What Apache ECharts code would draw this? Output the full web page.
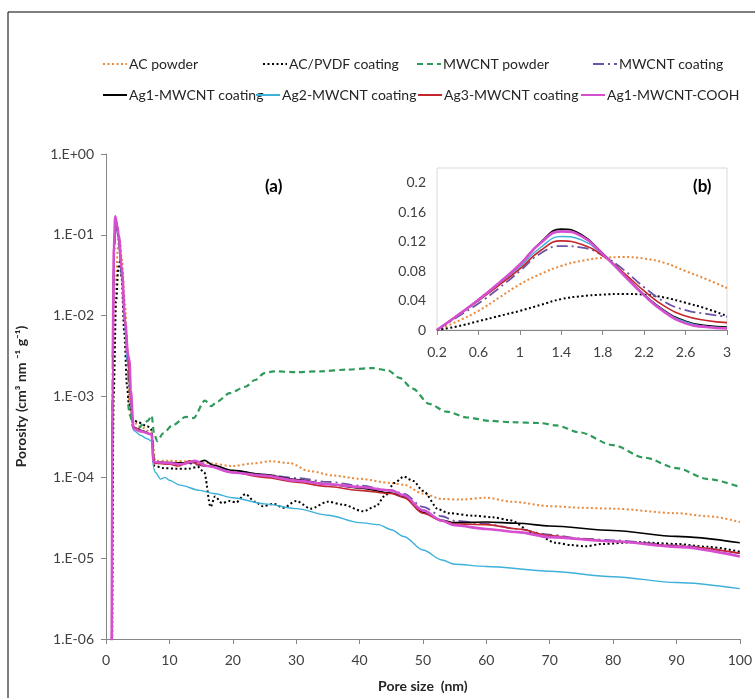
<!DOCTYPE html>
<html><head><meta charset="utf-8">
<script src="https://cdn.jsdelivr.net/npm/echarts@6/dist/echarts.min.js"></script>
<style>html,body{margin:0;padding:0;background:#fff}#c{width:755px;height:698px}</style>
</head><body><div id="c"></div>
<script>
// ---------- names ----------
const seriesNames = ['AC powder','AC/PVDF coating','MWCNT powder','MWCNT coating',
  'Ag1-MWCNT coating','Ag2-MWCNT coating','Ag3-MWCNT coating','Ag1-MWCNT-COOH'];

// ---------- main chart (a): [pore size nm, porosity] ----------
const acPowder = [[0.95,5e-7],[1.2,2e-3],[1.6,0.03],[1.9,0.075],[2.15,0.09],[2.5,0.05],[3.0,0.014],[3.4,3.5e-3],[3.7,8e-4],[4.3,4.8e-4],[5.5,4.2e-4],[7.2,3.6e-4],[7.8,1.6e-4],[10,1.6e-4],[13,1.58e-4],[16,1.5e-4],[20,1.38e-4],[23,1.48e-4],[26,1.58e-4],[29,1.5e-4],[32,1.2e-4],[36,1.05e-4],[40,9.6e-5],[45,8.5e-5],[47,8.1e-5],[50,6.3e-5],[53,5.4e-5],[56,5.3e-5],[60,5.6e-5],[64,5.0e-5],[70,4.4e-5],[75,4.2e-5],[80,4.1e-5],[90,3.6e-5],[95,3.3e-5],[100,2.8e-5]];
const acPvdfCoating = [[0.95,5e-7],[1.2,1e-3],[1.6,0.015],[1.95,0.04],[2.15,0.046],[2.45,0.03],[2.9,6e-3],[3.3,1.4e-3],[3.6,8e-4],[4.3,5.2e-4],[5,4.8e-4],[6.5,4.3e-4],[7.1,4.0e-4],[7.6,1.4e-4],[9,1.3e-4],[11,1.28e-4],[13,1.28e-4],[14.5,1.35e-4],[15.5,1.15e-4],[16.5,4.3e-5],[17.2,5.8e-5],[18.3,4.8e-5],[19.5,5.1e-5],[20.5,4.9e-5],[22,6.2e-5],[23.5,5.0e-5],[24.7,4.4e-5],[26.5,4.7e-5],[28,4.2e-5],[30,5.1e-5],[32.3,4.1e-5],[35,5.0e-5],[37.3,4.6e-5],[40.6,3.8e-5],[42.6,4.4e-5],[44,5.9e-5],[45.5,8.5e-5],[47,1.02e-4],[48.5,9.0e-5],[50,6.8e-5],[52.5,4.0e-5],[54,3.6e-5],[58,3.35e-5],[61,3.2e-5],[63.7,2.95e-5],[67.7,2.0e-5],[71,1.55e-5],[73.5,1.45e-5],[75.6,1.4e-5],[78.3,1.5e-5],[83.6,1.58e-5],[90,1.5e-5],[95,1.38e-5],[100,1.2e-5]];
const mwcntPowder = [[3.5,8e-4],[3.8,5.8e-4],[4.35,4.0e-4],[5.1,4.0e-4],[5.9,4.6e-4],[6.6,5.0e-4],[7.2,5.8e-4],[7.6,3.4e-4],[8.1,2.8e-4],[9,3.5e-4],[10.5,4.4e-4],[12.6,5.6e-4],[13.8,5.4e-4],[15.6,8.9e-4],[16.6,7.6e-4],[17.5,8.6e-4],[19.5,1.1e-3],[22,1.32e-3],[23.5,1.6e-3],[25,1.95e-3],[26.5,2.05e-3],[30,2.0e-3],[34,2.05e-3],[38,2.15e-3],[42,2.25e-3],[44.5,2.1e-3],[46.3,1.7e-3],[48.4,1.25e-3],[51,8.1e-4],[53.7,6.5e-4],[57,5.5e-4],[60.5,5.0e-4],[64,4.8e-4],[68.4,4.7e-4],[71,4.4e-4],[74.7,3.6e-4],[80,2.5e-4],[85,1.75e-4],[90,1.3e-4],[95,9.5e-5],[100,7.6e-5]];
const mwcntCoating = [[0.9,5e-7],[1.05,3e-3],[1.25,0.05],[1.5,0.14],[1.75,0.11],[2.0,0.08],[2.5,0.03],[3.0,8e-3],[3.4,2.4e-3],[3.7,1.2e-3],[4.3,4.2e-4],[5.5,3.8e-4],[7.2,3.4e-4],[7.6,1.55e-4],[10,1.5e-4],[13,1.48e-4],[16,1.38e-4],[20,1.2e-4],[25,1.08e-4],[30,9.8e-5],[35,8.8e-5],[40,7.9e-5],[45,6.9e-5],[47,6.3e-5],[50,4.3e-5],[53,3.3e-5],[55,2.9e-5],[60,2.65e-5],[65,2.3e-5],[70,1.95e-5],[75,1.75e-5],[80,1.66e-5],[90,1.44e-5],[100,1.15e-5]];
const ag1Coating = [[0.9,5e-7],[1.05,3e-3],[1.25,0.06],[1.5,0.16],[1.75,0.13],[2.0,0.09],[2.5,0.035],[3.0,8.5e-3],[3.5,3.0e-3],[3.8,1.2e-3],[4.3,4.2e-4],[5.5,3.8e-4],[7.2,3.4e-4],[7.6,1.55e-4],[10,1.52e-4],[13,1.5e-4],[14.5,1.55e-4],[15.6,1.62e-4],[16.8,1.42e-4],[20,1.22e-4],[25,1.08e-4],[30,9.4e-5],[35,8.2e-5],[40,7.4e-5],[45,6.4e-5],[47,5.8e-5],[50,3.7e-5],[53,2.95e-5],[55,2.75e-5],[60,2.8e-5],[65,2.7e-5],[70,2.5e-5],[80,2.2e-5],[90,1.86e-5],[100,1.55e-5]];
const ag2Coating = [[0.9,5e-7],[1.05,3e-3],[1.25,0.06],[1.5,0.16],[1.75,0.13],[2.0,0.09],[2.5,0.033],[3.0,8e-3],[3.3,3.0e-3],[3.55,2.4e-3],[3.9,8e-4],[4.35,3.8e-4],[5.5,3.3e-4],[6.5,3.0e-4],[7.2,2.8e-4],[7.5,1.3e-4],[7.8,1.15e-4],[8.6,9.5e-5],[9.3,1.0e-4],[10,9.2e-5],[11.7,8.0e-5],[14.8,6.9e-5],[17,6.3e-5],[20,5.6e-5],[25,4.7e-5],[30,4.1e-5],[35,3.4e-5],[40,2.75e-5],[43,2.6e-5],[45,2.25e-5],[47,1.85e-5],[50,1.26e-5],[53,9.5e-6],[55,8.4e-6],[60,7.9e-6],[70,6.9e-6],[80,5.9e-6],[90,5.0e-6],[100,4.2e-6]];
const ag3Coating = [[0.9,5e-7],[1.05,3e-3],[1.25,0.06],[1.5,0.16],[1.75,0.13],[2.0,0.09],[2.5,0.035],[3.0,8.5e-3],[3.5,3.0e-3],[3.8,1.2e-3],[4.3,4.2e-4],[5.5,3.8e-4],[7.2,3.4e-4],[7.6,1.5e-4],[10,1.45e-4],[11.5,1.38e-4],[13.2,1.6e-4],[14.5,1.45e-4],[16,1.38e-4],[20,1.15e-4],[25,1.0e-4],[30,8.7e-5],[35,7.7e-5],[40,6.9e-5],[45,6.3e-5],[47,5.6e-5],[50,3.6e-5],[53,2.9e-5],[55,2.65e-5],[60,2.6e-5],[65,2.3e-5],[70,1.9e-5],[75,1.72e-5],[80,1.62e-5],[90,1.41e-5],[100,1.15e-5]];
const ag1Cooh = [[0.9,5e-7],[1.05,3e-3],[1.25,0.07],[1.46,0.17],[1.75,0.13],[2.0,0.1],[2.5,0.038],[3.0,8.5e-3],[3.5,3.2e-3],[3.7,2.8e-3],[3.9,1.2e-3],[4.35,4.0e-4],[5.5,3.7e-4],[7.2,3.4e-4],[7.5,1.55e-4],[10,1.5e-4],[12,1.45e-4],[14,1.6e-4],[16,1.38e-4],[20,1.15e-4],[25,1.05e-4],[30,9.1e-5],[35,8.2e-5],[40,7.6e-5],[45,6.9e-5],[47,6.0e-5],[50,3.9e-5],[53,2.9e-5],[55,2.55e-5],[60,2.3e-5],[65,2.1e-5],[70,1.82e-5],[80,1.62e-5],[90,1.38e-5],[100,1.05e-5]];

// ---------- inset (b) ----------
const insetX = ['0.2','0.4','0.6','0.8','1','1.2','1.4','1.6','1.8','2','2.2','2.4','2.6','2.8','3'];
const insetAcPowder  = [0,0.012,0.026,0.044,0.062,0.076,0.087,0.094,0.098,0.099,0.097,0.091,0.080,0.069,0.057];
const insetAcPvdf    = [0,0.005,0.012,0.019,0.026,0.034,0.042,0.046,0.048,0.049,0.048,0.044,0.037,0.029,0.019];
const insetMwcntCoat = [0,0.018,0.036,0.057,0.080,0.104,0.114,0.112,0.101,0.082,0.058,0.038,0.027,0.022,0.018];
const insetAg1       = [0,0.020,0.041,0.064,0.089,0.119,0.137,0.129,0.104,0.076,0.048,0.026,0.012,0.006,0.004];
const insetAg2       = [0,0.020,0.040,0.062,0.086,0.112,0.127,0.122,0.102,0.075,0.048,0.025,0.011,0.005,0.003];
const insetAg3       = [0,0.020,0.040,0.061,0.083,0.108,0.121,0.116,0.101,0.078,0.053,0.032,0.019,0.013,0.010];
const insetCooh      = [0,0.020,0.041,0.064,0.089,0.118,0.134,0.127,0.103,0.075,0.047,0.024,0.009,0.004,0.002];

// ---------- axis ranges ----------
const mainXMin = 0, mainXMax = 100, mainXStep = 10;
const mainYMin = 1e-6, mainYMax = 1;
const insetYMax = 0.22, insetYStep = 0.04;

// ---------- styling ----------
const FONT = 'Lato';
const colors = ['#E8893B','#000000','#2E9B5A','#6B54A6','#000000','#3DB1DA','#C3262C','#D64FD0'];
const lineStyles = [
  {type:[2,2.5], width:2},
  {type:[2,2.5], width:2},
  {type:[6,4], width:2.2},
  {type:[11,4,2,4], width:1.8},
  {type:'solid', width:1.6},
  {type:'solid', width:1.4},
  {type:'solid', width:1.6},
  {type:'solid', width:2.6}
];
const mainData = [acPowder, acPvdfCoating, mwcntPowder, mwcntCoating, ag1Coating, ag2Coating, ag3Coating, ag1Cooh];
const insetData = [insetAcPowder, insetAcPvdf, null, insetMwcntCoat, insetAg1, insetAg2, insetAg3, insetCooh];

function expLabel(v){
  const e = Math.round(Math.log10(v));
  const a = Math.abs(e);
  return '1.E' + (e < 0 ? '-' : '+') + (a < 10 ? '0' : '') + a;
}

const series = [];
seriesNames.forEach((n,i)=>{
  series.push({
    name:n, type:'line', xAxisIndex:0, yAxisIndex:0, data:mainData[i],
    symbol:'none', smooth:0.3, smoothMonotone:'x',
    lineStyle:Object.assign({color:colors[i]}, lineStyles[i]),
    itemStyle:{color:colors[i]}, emphasis:{disabled:true}, silent:true
  });
});
seriesNames.forEach((n,i)=>{
  if(!insetData[i]) return;
  series.push({
    name:n, type:'line', xAxisIndex:1, yAxisIndex:1, data:insetData[i],
    symbol:'none', smooth:0.5,
    lineStyle:Object.assign({color:colors[i]}, lineStyles[i]),
    itemStyle:{color:colors[i]}, emphasis:{disabled:true}, silent:true
  });
});

const legendPos = [[102,57],[262,57],[416,57],[592,57],[102,88],[255,88],[417,88],[580,88]];
const legends = seriesNames.map((n,i)=>({
  data:[n], left:legendPos[i][0], top:legendPos[i][1], padding:0, itemGap:0,
  itemWidth:24, itemHeight:12, selectedMode:false,
  itemStyle:{opacity:0},
  textStyle:{fontFamily:FONT, fontSize:14, color:'#262626', padding:[0,0,0,-3]}
}));

const axisGrey = '#868686';
const option = {
  animation:false,
  backgroundColor:'#fff',
  textStyle:{fontFamily:FONT},
  legend:legends,
  title:[
    {text:'(a)', left:265, top:178, padding:0, textStyle:{fontFamily:FONT, fontWeight:'bold', fontSize:17, color:'#000'}},
    {text:'(b)', left:693, top:178, padding:0, textStyle:{fontFamily:FONT, fontWeight:'bold', fontSize:17, color:'#000'}}
  ],
  graphic:[
    {type:'rect', shape:{x:8, y:12, width:800, height:800}, style:{fill:'none', stroke:'#000', lineWidth:1}, silent:true, z:-1}
  ],
  grid:[
    {left:106, top:154, width:639, height:487},
    {left:437, top:168, width:290, height:162, show:true, backgroundColor:'#fff', borderColor:'#D9D9D9', borderWidth:1}
  ],
  xAxis:[
    {type:'value', gridIndex:0, min:mainXMin, max:mainXMax, interval:mainXStep,
     axisLine:{show:true, onZero:false, lineStyle:{color:axisGrey}},
     axisTick:{show:true, inside:false, length:5, lineStyle:{color:axisGrey}},
     splitLine:{show:false},
     axisLabel:{fontFamily:FONT, fontSize:14, color:'#404040', margin:14},
     name:'Pore size  (nm)', nameLocation:'middle', nameGap:40,
     nameTextStyle:{fontFamily:FONT, fontWeight:'bold', fontSize:14, color:'#262626'}},
    {type:'category', gridIndex:1, data:insetX, boundaryGap:false,
     axisLine:{show:true, lineStyle:{color:axisGrey}},
     axisTick:{show:true, inside:false, length:5, interval:1, lineStyle:{color:axisGrey}},
     splitLine:{show:false},
     axisLabel:{interval:1, fontFamily:FONT, fontSize:14, color:'#404040', margin:15}}
  ],
  yAxis:[
    {type:'log', gridIndex:0, logBase:10, min:mainYMin, max:mainYMax,
     axisLine:{show:true, onZero:false, lineStyle:{color:axisGrey}},
     axisTick:{show:true, inside:false, length:5, lineStyle:{color:axisGrey}},
     minorTick:{show:false}, splitLine:{show:false},
     axisLabel:{formatter:expLabel, fontFamily:FONT, fontSize:14, color:'#404040', margin:12},
     name:'Porosity (cm³ nm ⁻¹ g⁻¹)', nameLocation:'middle', nameGap:78,
     nameTextStyle:{fontFamily:FONT, fontWeight:'bold', fontSize:14, color:'#262626'}},
    {type:'value', gridIndex:1, min:0, max:insetYMax, interval:insetYStep,
     axisLine:{show:false}, axisTick:{show:false}, splitLine:{show:false},
     axisLabel:{showMaxLabel:false, fontFamily:FONT, fontSize:14, color:'#404040', margin:11,
       formatter:v=> (Math.abs(v-insetYMax)<1e-9 ? '' : String(Math.round(v*100)/100))}}
  ],
  series:series
};
const chart = echarts.init(document.getElementById('c'), null, {renderer:'canvas'});
chart.setOption(option);
</script>
</body></html>
